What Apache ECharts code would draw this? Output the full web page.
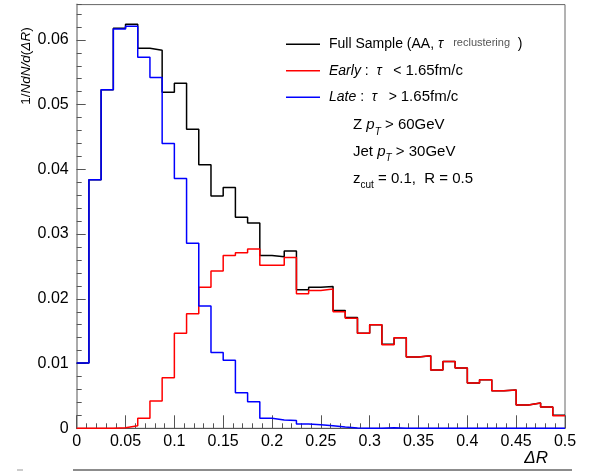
<!DOCTYPE html>
<html><head><meta charset="utf-8">
<script src="https://cdn.jsdelivr.net/npm/echarts@6/dist/echarts.min.js"></script>
<style>html,body{margin:0;padding:0;background:#fff}#c{width:590px;height:471px}</style>
</head><body><div id="c"></div>
<script>
// ---- data ----
const binLow = 0, binHigh = 0.5, nBins = 40;
const seriesNames = ['Full', 'Early', 'Late'];
const fullSample = [0.0101,0.0384,0.0523,0.0618,0.0624,0.0587,0.0584,0.0519,0.0533,0.0462,
  0.0407,0.0359,0.0372,0.0326,0.0317,0.0267,0.0265,0.0274,0.0214,0.0218,
  0.0219,0.0182,0.0171,0.0147,0.0160,0.0130,0.0140,0.0110,0.0112,0.0090,
  0.0103,0.0093,0.0070,0.0075,0.0058,0.0059,0.0036,0.0039,0.0033,0.0020];
const early = [0,0,0,0.0001,0.0004,0.00155,0.0042,0.0078,0.0147,0.0177,
  0.0218,0.0243,0.0267,0.0271,0.0277,0.0252,0.0252,0.0264,0.0208,0.0213,
  0.0215,0.0180,0.0170,0.0147,0.0160,0.0129,0.0140,0.0110,0.0112,0.0090,
  0.0103,0.0093,0.0070,0.0075,0.0058,0.0059,0.0036,0.0039,0.0033,0.00195];
const late = [0.0101,0.0384,0.0523,0.0617,0.0621,0.0573,0.0542,0.0440,0.0386,0.0286,
  0.0189,0.0117,0.0105,0.0055,0.0041,0.00155,0.0013,0.0012,0.00066,0.00056,
  0.0004,0.0002,0.00005,0,0,0.0001,0,0,0,0,
  0,0,0,0,0,0,0,0,0,0];
const xTickLabels = ['0','0.05','0.1','0.15','0.2','0.25','0.3','0.35','0.4','0.45','0.5'];
const yTickLabels = ['0','0.01','0.02','0.03','0.04','0.05','0.06'];
const legendTexts = [
  '{pad| }{n|Full Sample (AA, }{i|τ}{sup|reclustering}{n|  )}',
  '{pad| }{i|Early}{n| :  }{i|τ}{n|   < }{w|1.65fm/c}',
  '{pad| }{i|Late}{n| :  }{i|τ}{n|   > }{w|1.65fm/c}'
];
const infoTexts = [
  '{m|Z }{mi|p}{sub|T}{m| > 60GeV}',
  '{m|Jet }{mi|p}{sub|T}{m| > 30GeV}',
  '{m|z}{subn|cut}{m| = 0.1,  R = 0.5}'
];

// ---- styling ----
const SANS = '"Liberation Sans",Arial,Helvetica,sans-serif';
const colors = ['#000000', '#ff0000', '#0000ff'];
const richStyles = {
  pad: {fontFamily: SANS, fontSize: 14, width: 4, lineHeight: 18},
  n: {fontFamily: SANS, fontSize: 14, color: '#000', lineHeight: 18},
  w: {fontFamily: SANS, fontSize: 15, color: '#000', lineHeight: 18},
  i: {fontFamily: SANS, fontSize: 14, color: '#000', fontStyle: 'italic', lineHeight: 18},
  sup: {fontFamily: SANS, fontSize: 11, color: '#555', lineHeight: 18, padding: [0, 0, 3, 10]},
  m: {fontFamily: SANS, fontSize: 15, color: '#000', lineHeight: 18},
  mi: {fontFamily: SANS, fontSize: 15, color: '#000', fontStyle: 'italic', lineHeight: 18},
  sub: {fontFamily: SANS, fontSize: 10, color: '#000', fontStyle: 'italic', lineHeight: 18, padding: [13, 0, 0, 0]},
  subn: {fontFamily: SANS, fontSize: 10, color: '#000', lineHeight: 18, padding: [13, 0, 0, 0]}
};
const binW = (binHigh - binLow) / nBins;
function steps(vals) {
  const d = vals.map((v, i) => [binLow + i * binW, v]);
  d.push([binHigh, vals[vals.length - 1]]);
  return d;
}
const allData = [fullSample, early, late];

const chart = echarts.init(document.getElementById('c'), null, {renderer: 'canvas'});
chart.setOption({
  animation: false,
  backgroundColor: '#fff',
  grid: {left: 76.7, right: 25, top: 4.6, bottom: 42.7, show: true, borderColor: '#666', borderWidth: 1, backgroundColor: 'transparent'},
  xAxis: {
    type: 'value', min: binLow, max: binHigh, interval: 0.05,
    axisLine: {show: true, lineStyle: {color: '#555', width: 1}},
    axisTick: {show: true, inside: true, length: 13, lineStyle: {color: '#555'}},
    minorTick: {show: true, splitNumber: 5, length: 5, lineStyle: {color: '#555'}},
    splitLine: {show: false},
    axisLabel: {margin: 5, fontFamily: SANS, fontSize: 16, color: '#000',
      formatter: v => xTickLabels[Math.round(v / 0.05)]}
  },
  yAxis: [{
    type: 'value', min: 0, max: 0.06545, interval: 0.01,
    axisLine: {show: true, lineStyle: {color: '#aaa', width: 2}},
    axisTick: {show: true, inside: true, length: 9, lineStyle: {color: '#555'}},
    splitLine: {show: false},
    axisLabel: {margin: 8, showMaxLabel: false, fontFamily: SANS, fontSize: 16, color: '#000',
      formatter: v => { const k = Math.round(v / 0.01); return Math.abs(v - k * 0.01) < 1e-9 ? yTickLabels[k] : ''; }}
  }, {
    type: 'value', min: 0, max: 0.06545, interval: 0.002, position: 'left', offset: 0,
    axisLine: {show: false},
    axisTick: {show: true, inside: true, length: 5, lineStyle: {color: '#555'}},
    splitLine: {show: false},
    axisLabel: {show: false}
  }],
  legend: [0, 1, 2].map(k => ({
    data: [seriesNames[k]], left: 286, top: [35.3, 61.7, 88.3][k], orient: 'vertical',
    icon: 'rect', itemWidth: 34, itemHeight: 1.5, itemGap: 0, padding: 0, selectedMode: false,
    formatter: () => legendTexts[k],
    textStyle: {fontFamily: SANS, fontSize: 14, lineHeight: 18, color: '#000', rich: richStyles}
  })),
  series: allData.map((vals, k) => ({
    name: seriesNames[k], type: 'line', step: 'end', yAxisIndex: 0,
    data: steps(vals), showSymbol: false, symbol: 'none',
    lineStyle: {color: colors[k], width: 1.5}, itemStyle: {color: colors[k]},
    z: 2 + k
  })),
  graphic: [
    ...infoTexts.map((t, k) => ({
      type: 'text', x: 353, y: [125.3, 152, 178.7][k], z: 10,
      style: {text: t, rich: richStyles, verticalAlign: 'middle', align: 'left', fontFamily: SANS, fontSize: 15, lineHeight: 18}
    })),
    {type: 'text', x: 26.5, y: 66, rotation: Math.PI / 2, z: 10,
      style: {text: '{n|1/}{i|NdN/d}{n|(}{i|ΔR}{n|)}', align: 'center', verticalAlign: 'middle',
        rich: {n: {fontFamily: SANS, fontSize: 13.5, color: '#000'}, i: {fontFamily: SANS, fontSize: 13.5, fontStyle: 'italic', color: '#000'}}}},
    {type: 'text', x: 548, y: 458.5, z: 10,
      style: {text: 'ΔR', align: 'right', verticalAlign: 'middle', fontFamily: SANS, fontSize: 17, fontStyle: 'italic', fill: '#000'}},
    {type: 'line', z: 10, shape: {x1: 73, y1: 470, x2: 572, y2: 470}, style: {stroke: '#666', lineWidth: 1.5}},
    {type: 'line', z: 10, shape: {x1: 17, y1: 470, x2: 23, y2: 470}, style: {stroke: '#bbb', lineWidth: 1.5}}
  ]
});
</script></body></html>
